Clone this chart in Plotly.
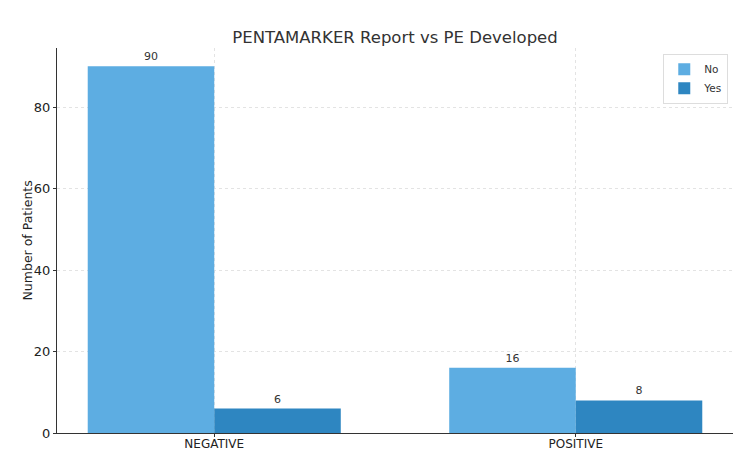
import plotly.graph_objects as go

categories = ["NEGATIVE", "POSITIVE"]
no_values = [90, 16]
yes_values = [6, 8]
series_names = ["No", "Yes"]
colors = ["#5DADE2", "#2E86C1"]

fig = go.Figure()
for name, vals, col in zip(series_names, [no_values, yes_values], colors):
    fig.add_trace(go.Bar(
        x=categories, y=vals, name=name, marker_color=col, marker_line_width=0,
        text=[str(v) for v in vals], textposition="outside", cliponaxis=False,
        textfont=dict(family="DejaVu Sans", size=11, color="#333333"),
    ))

fig.update_layout(
    width=750, height=461,
    margin=dict(l=57, r=17, t=48, b=28),
    paper_bgcolor="white", plot_bgcolor="white",
    barmode="group", bargap=0.3, bargroupgap=0,
    font=dict(family="DejaVu Sans", color="#333333"),
    title=dict(text="PENTAMARKER Report vs PE Developed", x=0.5, xanchor="center", xref="paper",
               y=1 - 37/461, yanchor="middle",
               font=dict(size=16.5, color="#333333")),
    legend=dict(x=0.993, y=0.985, xanchor="right", yanchor="top",
                bordercolor="#dddddd", borderwidth=1, bgcolor="rgba(255,255,255,0.8)",
                font=dict(size=10.5, color="#333333"), itemwidth=30, tracegroupgap=0),
    xaxis=dict(range=[-0.435, 1.435], showgrid=True, gridcolor="#e3e3e3", griddash="dot",
               showline=True, linecolor="#333333", linewidth=1, ticks="outside",
               ticklen=3, tickcolor="#333333", automargin=False, ticklabelstandoff=-3,
               tickfont=dict(size=12, color="#222222")),
    yaxis=dict(range=[0, 94.5], tickvals=[0, 20, 40, 60, 80], showgrid=True,
               gridcolor="#e3e3e3", griddash="dot", zeroline=False,
               showline=True, linecolor="#333333", linewidth=1, ticks="outside",
               ticklen=3, tickcolor="#333333", automargin=False,
               tickfont=dict(size=13, color="#222222")),
    annotations=[dict(text="Number of Patients", xref="paper", yref="paper",
                      x=(27 - 57) / 676, y=0.5, xanchor="center", yanchor="middle",
                      textangle=-90, showarrow=False,
                      font=dict(size=12.5, color="#222222"))],
)

fig.write_html("out.html")
